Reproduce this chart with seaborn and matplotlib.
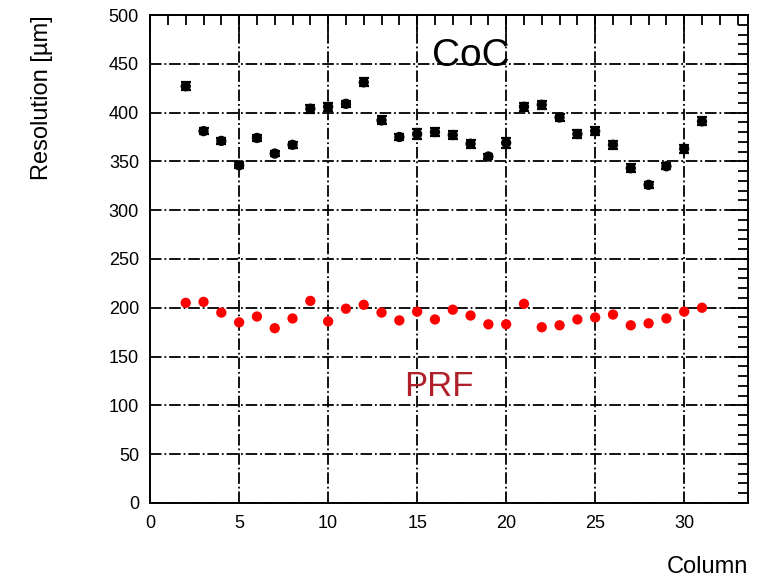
import numpy as np
import pandas as pd
import matplotlib
matplotlib.use("Agg")
import matplotlib.pyplot as plt
from matplotlib.ticker import MultipleLocator
import seaborn as sns

# Per-column resolution measurements
columns = list(range(2, 32))
coc_res = [427, 381, 371, 346, 374, 358, 367, 404, 406, 409, 431, 392, 375, 378, 380,
           377, 368, 355, 369, 406, 408, 395, 378, 381, 367, 343, 326, 345, 363, 391]
coc_err = [4, 3, 3, 3, 3, 3, 3, 4, 4, 3, 4, 4, 3, 5, 4,
           4, 4, 3, 5, 4, 4, 4, 4, 4, 4, 4, 3, 3, 4, 4]
prf_res = [205, 206, 195, 185, 191, 179, 189, 207, 186, 199, 203, 195, 187, 196, 188,
           198, 192, 183, 183, 204, 180, 182, 188, 190, 193, 182, 184, 189, 196, 200]

df = pd.DataFrame({"Column": columns, "CoC": coc_res, "CoC_err": coc_err, "PRF": prf_res})

sns.set_theme(style="white")
plt.rcParams["font.family"] = ["Liberation Sans", "DejaVu Sans"]
plt.rcParams["text.color"] = "black"
plt.rcParams["axes.labelcolor"] = "black"
plt.rcParams["xtick.labelcolor"] = "black"
plt.rcParams["ytick.labelcolor"] = "black"

fig = plt.figure(figsize=(7.62, 5.78), dpi=100)
ax = fig.add_axes([0.197, 0.130, 0.785, 0.844])

ax.errorbar(df["Column"], df["CoC"], yerr=df["CoC_err"], fmt="none",
            ecolor="black", elinewidth=1.6, capsize=3.5, capthick=1.6, zorder=3)
sns.scatterplot(data=df, x="Column", y="CoC", ax=ax, color="black", s=55,
                edgecolor="none", zorder=4, legend=False)
sns.scatterplot(data=df, x="Column", y="PRF", ax=ax, color="#ff0000", s=55,
                edgecolor="none", zorder=4, legend=False)

ax.set_xlim(0, 33.6)
ax.set_ylim(0, 500)
ax.xaxis.set_major_locator(MultipleLocator(5))
ax.xaxis.set_minor_locator(MultipleLocator(1))
ax.yaxis.set_major_locator(MultipleLocator(50))
ax.yaxis.set_minor_locator(MultipleLocator(10))

ax.grid(True, which="major", color="black", linestyle="-.", linewidth=1.3)
ax.tick_params(which="both", direction="in", top=True, right=True, color="black",
               labelsize=13, width=1.3)
ax.tick_params(which="major", length=12)
ax.tick_params(axis="x", which="major", pad=9)
ax.tick_params(axis="y", which="major", pad=8)
ax.tick_params(which="minor", length=7)
for sp in ax.spines.values():
    sp.set_color("black")
    sp.set_linewidth(1.4)

ax.set_xlabel("Column", fontsize=17, loc="right", labelpad=17)
ax.set_ylabel("Resolution [\u00b5m]", fontsize=17, loc="top", labelpad=40)

ax.text(18.0, 458, "CoC", fontsize=28, color="black", ha="center", va="center")
ax.text(16.2, 119, "PRF", fontsize=25, color="#b0202a", ha="center", va="center")

fig.savefig("out.png", dpi=100, facecolor="white")
